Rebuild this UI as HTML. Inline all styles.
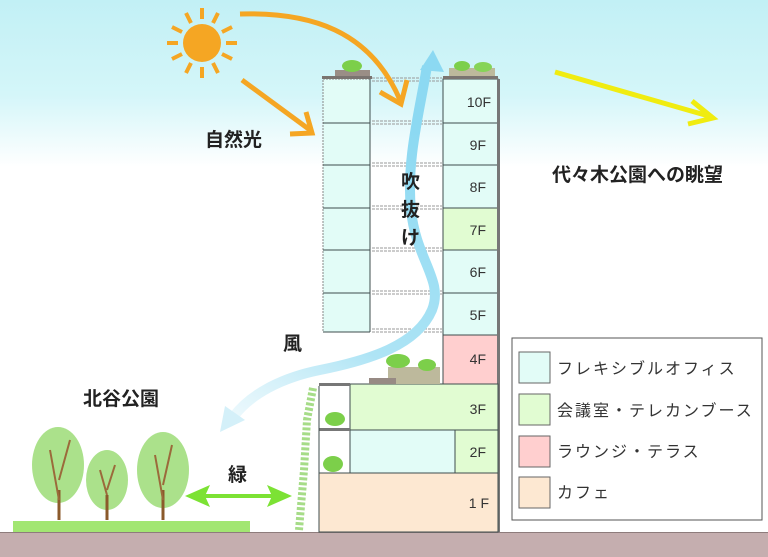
<!DOCTYPE html>
<html><head><meta charset="utf-8"><style>
html,body{margin:0;padding:0;background:#fff}
svg{display:block}
text{font-family:"Liberation Sans","Noto Sans CJK JP",sans-serif}
</style></head><body>
<svg width="768" height="557" viewBox="0 0 768 557" xmlns="http://www.w3.org/2000/svg">
<defs>
<linearGradient id="sky" x1="0" y1="0" x2="0" y2="1">
<stop offset="0" stop-color="#c2f0f5"/><stop offset="0.17" stop-color="#d4f6f9"/><stop offset="0.3" stop-color="#ffffff"/><stop offset="1" stop-color="#ffffff"/>
</linearGradient>
<linearGradient id="wind" x1="0" y1="1" x2="0.3" y2="0">
<stop offset="0" stop-color="#cdeef8" stop-opacity="0.4"/><stop offset="0.35" stop-color="#aee4f5"/><stop offset="1" stop-color="#8cd9f2"/>
</linearGradient>
</defs>
<rect width="768" height="557" fill="url(#sky)"/>
<rect x="0" y="532" width="768" height="25" fill="#c5aeaf"/>
<line x1="0" y1="532.5" x2="768" y2="532.5" stroke="#8e7c7c" stroke-width="1"/>
<rect x="13" y="521" width="237" height="11" fill="#a2e672"/>

<g stroke="#3f4d4d" stroke-width="1">
<rect x="323" y="79" width="47" height="253" fill="#e2fcf7" stroke-dasharray="2,1" stroke="#888"/>
<line x1="370" y1="79" x2="370" y2="332"/>
<line x1="323" y1="123" x2="370" y2="123"/><line x1="323" y1="165" x2="370" y2="165"/>
<line x1="323" y1="208" x2="370" y2="208"/><line x1="323" y1="250" x2="370" y2="250"/>
<line x1="323" y1="293" x2="370" y2="293"/><line x1="323" y1="332" x2="370" y2="332"/>
</g>
<rect x="322" y="76" width="50" height="3" fill="#7a7470"/>
<rect x="335" y="70" width="35" height="6" fill="#9a8e86"/>
<ellipse cx="352" cy="66" rx="10" ry="6" fill="#7ccf4a"/>
<g stroke="#999" stroke-width="1" stroke-dasharray="3,1">
<line x1="372" y1="78" x2="442" y2="78"/><line x1="372" y1="81" x2="442" y2="81"/>
<line x1="372" y1="121" x2="442" y2="121"/><line x1="372" y1="124" x2="442" y2="124"/>
<line x1="372" y1="163" x2="442" y2="163"/><line x1="372" y1="166" x2="442" y2="166"/>
<line x1="372" y1="206" x2="442" y2="206"/><line x1="372" y1="209" x2="442" y2="209"/>
<line x1="372" y1="248" x2="442" y2="248"/><line x1="372" y1="251" x2="442" y2="251"/>
<line x1="372" y1="291" x2="442" y2="291"/><line x1="372" y1="294" x2="442" y2="294"/>
<line x1="372" y1="329" x2="442" y2="329"/><line x1="372" y1="332" x2="442" y2="332"/>
</g>
<g stroke="#3f4d4d" stroke-width="1">
<rect x="443" y="79" width="55" height="44" fill="#e2fcf7"/>
<rect x="443" y="123" width="55" height="42" fill="#e2fcf7"/>
<rect x="443" y="165" width="55" height="43" fill="#e2fcf7"/>
<rect x="443" y="208" width="55" height="42" fill="#e1fcd2"/>
<rect x="443" y="250" width="55" height="43" fill="#e2fcf7"/>
<rect x="443" y="293" width="55" height="42" fill="#e2fcf7"/>
<rect x="443" y="335" width="55" height="49" fill="#ffcfcf"/>
</g>
<rect x="497" y="79" width="3" height="453" fill="#777"/>
<rect x="443" y="76" width="55" height="3" fill="#7a7470"/>
<rect x="449" y="68" width="46" height="8" fill="#bdb99c"/>
<ellipse cx="462" cy="66" rx="8" ry="5" fill="#7ccf4a"/><ellipse cx="483" cy="67" rx="9" ry="5" fill="#86d458"/>
<rect x="319" y="473" width="179" height="59" fill="#fde8d2" stroke="#3f4d4d"/>
<rect x="350" y="384" width="148" height="46" fill="#e1fcd2" stroke="#3f4d4d"/>
<rect x="350" y="430" width="105" height="43" fill="#e2fcf7" stroke="#3f4d4d"/>
<rect x="455" y="430" width="43" height="43" fill="#e1fcd2" stroke="#3f4d4d"/>
<rect x="319" y="383" width="31" height="3" fill="#777"/>
<rect x="319" y="428" width="31" height="3" fill="#777"/>
<line x1="319" y1="386" x2="319" y2="473" stroke="#3f4d4d"/>
<ellipse cx="335" cy="419" rx="10" ry="7" fill="#7ccf4a"/>
<ellipse cx="333" cy="464" rx="10" ry="8" fill="#7ccf4a"/>
<rect x="388" y="367" width="52" height="17" fill="#bdb99c"/>
<rect x="369" y="378" width="27" height="6" fill="#978a84"/>
<ellipse cx="398" cy="361" rx="12" ry="7" fill="#7ccf4a"/><ellipse cx="427" cy="365" rx="9" ry="6" fill="#7ccf4a"/>
<path d="M313 388 L307 420 L304 470 L299 530" stroke="#a6dc88" stroke-width="8" fill="none" stroke-dasharray="3,2"/>

<path d="M427 66 C420 110 406 160 411 210 C416 260 444 280 432 310 C417 345 370 360 320 370 C280 378 250 395 234 416" stroke="url(#wind)" stroke-width="10" fill="none"/>
<path d="M433 50 L444 72 L420 70 Z" fill="#8cd9f2"/>
<path d="M220 432 L225 406 L245 420 Z" fill="#d4f0f9"/>

<circle cx="202" cy="43" r="19" fill="#f5a623"/>
<g stroke="#f5a623" stroke-width="4">
<line x1="202" y1="8" x2="202" y2="19"/><line x1="202" y1="67" x2="202" y2="78"/>
<line x1="167" y1="43" x2="178" y2="43"/><line x1="226" y1="43" x2="237" y2="43"/>
<line x1="186" y1="13" x2="191" y2="23"/><line x1="218" y1="13" x2="213" y2="23"/>
<line x1="186" y1="73" x2="191" y2="63"/><line x1="218" y1="73" x2="213" y2="63"/>
<line x1="172" y1="27" x2="182" y2="32"/><line x1="232" y1="27" x2="222" y2="32"/>
<line x1="172" y1="59" x2="182" y2="54"/><line x1="232" y1="59" x2="222" y2="54"/>
</g>
<g stroke="#f5a623" stroke-width="5" fill="none">
<path d="M240 14 C310 12 370 30 400 100"/>
<path d="M380 92 L401 104 L407 80"/>
<path d="M242 80 L310 130"/>
<path d="M290 134 L312 133 L306 112"/>
</g>
<g stroke="#f0ec10" stroke-width="5" fill="none">
<path d="M555 72 L712 117"/><path d="M692 101 L713 118 L688 124"/>
</g>
<line x1="195" y1="496" x2="282" y2="496" stroke="#7ce234" stroke-width="4"/>
<path d="M185 496 L210 485 L205 496 L210 507 Z" fill="#7ce234"/>
<path d="M292 496 L267 485 L272 496 L267 507 Z" fill="#7ce234"/>
<g fill="#8fd865" opacity="0.75">
<ellipse cx="58" cy="465" rx="26" ry="38"/><ellipse cx="107" cy="480" rx="21" ry="30"/><ellipse cx="163" cy="470" rx="26" ry="38"/>
</g>
<g stroke="#8b5a2b" stroke-width="3">
<line x1="59" y1="520" x2="59" y2="490"/><line x1="107" y1="520" x2="107" y2="495"/><line x1="163" y1="520" x2="163" y2="490"/>
</g>
<g stroke="#9b6a3b" stroke-width="2" fill="none">
<path d="M59 500 L50 450 M59 480 L70 440 M107 495 L100 470 M107 490 L115 465 M163 500 L155 455 M163 485 L172 445"/>
</g>

<g font-weight="bold" fill="#222" font-size="19">
<text x="205" y="146">自然光</text>
<text x="552" y="181">代々木公園への眺望</text>
<text x="401" y="188">吹</text><text x="401" y="216">抜</text><text x="401" y="244">け</text>
<text x="283" y="350">風</text>
<text x="83" y="405">北谷公園</text>
<text x="228" y="481">緑</text>
</g>
<g fill="#333" font-size="14" text-anchor="end">
<text x="491" y="107">10F</text><text x="486" y="150">9F</text><text x="486" y="192">8F</text>
<text x="486" y="235">7F</text><text x="486" y="277">6F</text><text x="486" y="320">5F</text>
<text x="486" y="364">4F</text><text x="486" y="414">3F</text><text x="486" y="457">2F</text><text x="489" y="508">1 F</text>
</g>
<rect x="512" y="338" width="250" height="182" fill="#fff" stroke="#555"/>
<g stroke="#666">
<rect x="519" y="352" width="31" height="31" fill="#e2fcf7"/>
<rect x="519" y="394" width="31" height="31" fill="#e1fcd2"/>
<rect x="519" y="436" width="31" height="31" fill="#ffcfcf"/>
<rect x="519" y="477" width="31" height="31" fill="#fde8d2"/>
</g>
<g fill="#333" font-size="16" letter-spacing="2">
<text x="557" y="374">フレキシブルオフィス</text>
<text x="557" y="416">会議室・テレカンブース</text>
<text x="557" y="457">ラウンジ・テラス</text>
<text x="557" y="498">カフェ</text>
</g>
</svg>
</body></html>
